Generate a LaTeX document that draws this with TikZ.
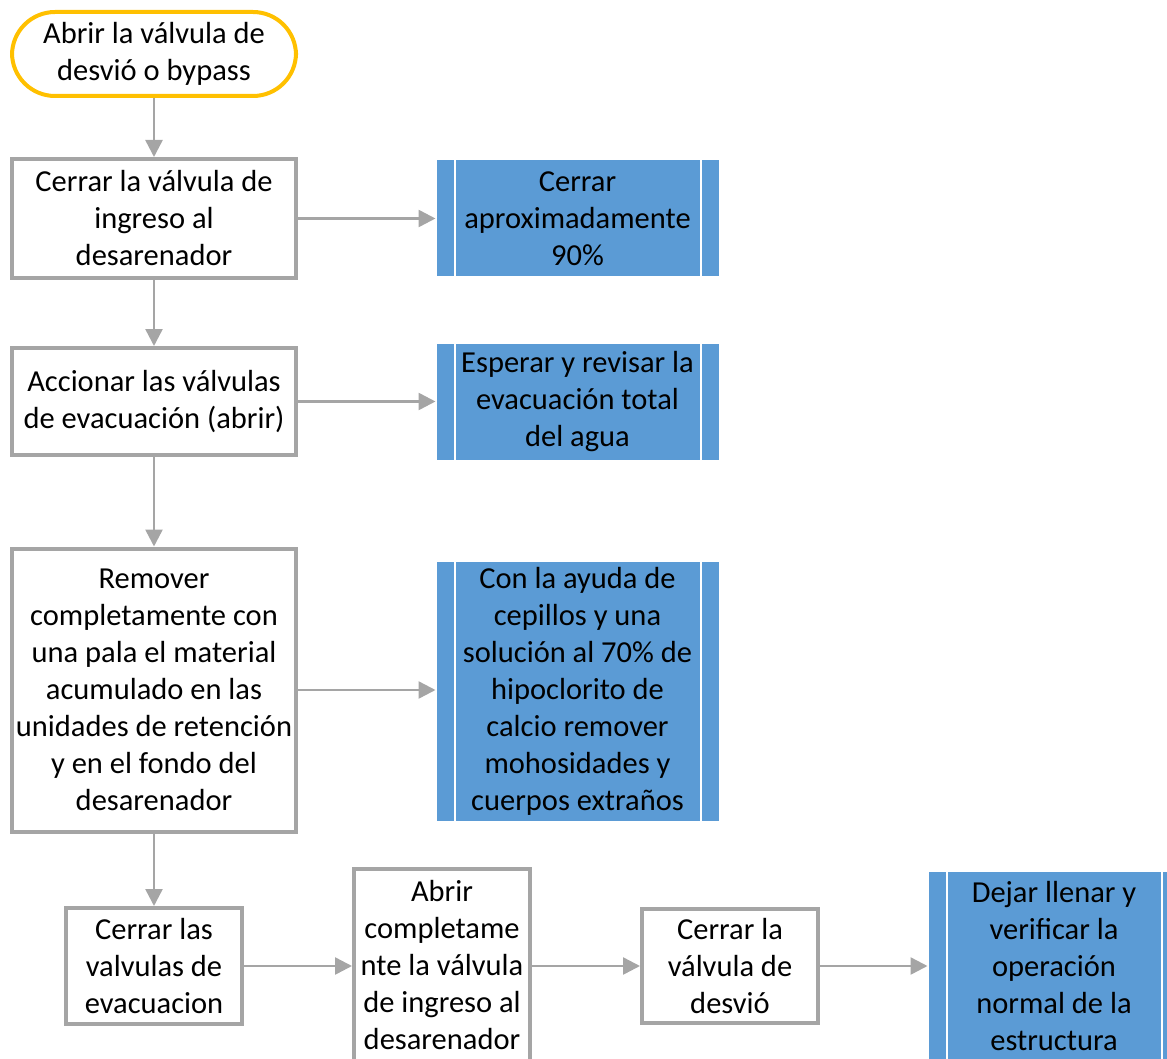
\documentclass[tikz,border=0pt]{standalone}
\usepackage{fontspec}
\setmainfont{Carlito}
\usetikzlibrary{arrows.meta}
\definecolor{stepgray}{HTML}{A5A5A5}
\definecolor{startyellow}{HTML}{FFC000}
\definecolor{subblue}{HTML}{5B9BD5}
\tikzset{
  txt/.style={font=\fontsize{30.5}{37}\selectfont, align=center, inner sep=0pt, text=black},
  startbox/.style={txt, draw=startyellow, line width=4pt, fill=white, rounded corners=43pt},
  stepbox/.style={txt, draw=stepgray, line width=4pt, fill=white},
  subbox/.style={txt, fill=subblue, draw=white, line width=1pt},
  flow/.style={draw=stepgray, line width=2.5pt, -{Triangle[length=17pt,width=17pt]}},
}
\newcommand{\subbars}[1]{%
  \draw[white, line width=2pt] ([xshift=19pt]#1.north west) -- ([xshift=19pt]#1.south west);
  \draw[white, line width=2pt] ([xshift=-19pt]#1.north east) -- ([xshift=-19pt]#1.south east);
}
\begin{document}
\begin{tikzpicture}[x=1pt,y=-1pt]
\useasboundingbox (0,0) rectangle (1167,1059);
\clip (0,0) rectangle (1167,1059);

% main column
\node[startbox, minimum width=284pt, minimum height=84pt] (t) at (154,54) {Abrir la válvula de\\desvió o bypass};
\node[stepbox, minimum width=284pt, minimum height=119pt] (b1) at (154,218.5) {Cerrar la válvula de\\ingreso al\\desarenador};
\node[stepbox, minimum width=284pt, minimum height=107pt] (b2) at (154,401.5) {Accionar las válvulas\\de evacuación (abrir)};
\node[stepbox, minimum width=284pt, minimum height=283pt] (b3) at (154,690) {Remover\\completamente con\\una pala el material\\acumulado en las\\unidades de retención\\y en el fondo del\\desarenador};

% sub-process column
\node[subbox, minimum width=283pt, minimum height=117pt] (p1) at (577.5,218.5) {Cerrar\\aproximadamente\\90\%};
\node[subbox, minimum width=283pt, minimum height=117pt] (p2) at (577.5,401.5) {Esperar y revisar la\\evacuación total\\del agua};
\node[subbox, minimum width=283pt, minimum height=260pt] (p3) at (577.5,691) {Con la ayuda de\\cepillos y una\\solución al 70\% de\\hipoclorito de\\calcio remover\\mohosidades y\\cuerpos extraños};
\subbars{p1}
\subbars{p2}
\subbars{p3}

% bottom row (the two tall boxes run past the lower edge; an empty last line keeps their text high)
\node[stepbox, minimum width=176pt, minimum height=116pt] (b4) at (154,966) {Cerrar las\\valvulas de\\evacuacion};
\node[stepbox, minimum width=176pt, minimum height=229pt] (b5) at (442,983.5) {Abrir\\completame\\nte la válvula\\de ingreso al\\desarenador\\~};
\node[stepbox, minimum width=176pt, minimum height=114pt] (b6) at (730,966) {Cerrar la\\válvula de\\desvió};
\node[subbox, minimum width=252pt, minimum height=227pt] (p4) at (1054,984.5) {Dejar llenar y\\verificar la\\operación\\normal de la\\estructura\\~};
\subbars{p4}

% connectors
\draw[flow] (t) -- (b1);
\draw[flow] (b1) -- (b2);
\draw[flow] (b2) -- (b3);
\draw[flow] (b3) -- (b4);
\draw[flow] (b1) -- (p1);
\draw[flow] (b2) -- (p2);
\draw[flow] (b3.east) -- (p3.west |- b3.east);
\draw[flow] (b4.east) -- (b5.west |- b4.east);
\draw[flow] (b5.east |- b6.west) -- (b6.west);
\draw[flow] (b6.east) -- (p4.west |- b6.east);
\end{tikzpicture}
\end{document}
